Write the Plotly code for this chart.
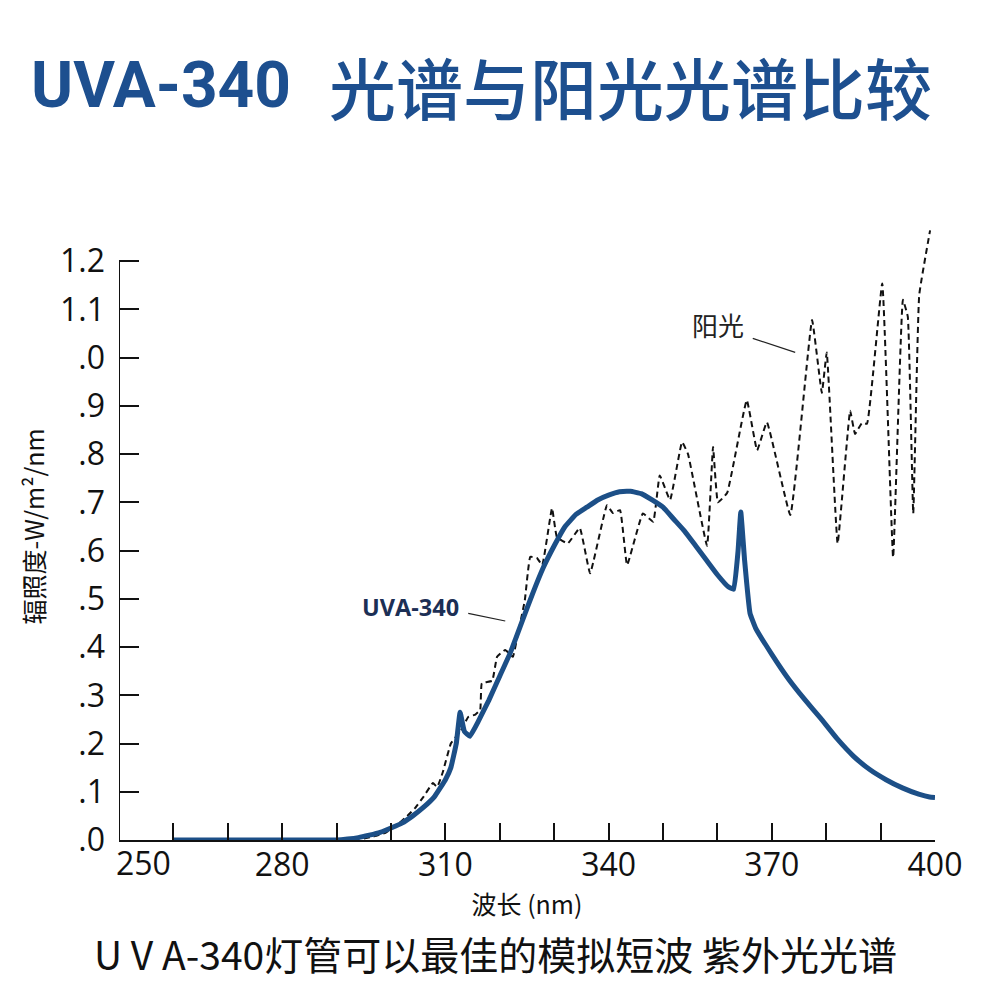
import plotly.graph_objects as go

# UVA-340 lamp spectrum (W/m2/nm)
uva_nm = [260, 270, 280, 290, 292, 294, 296, 298, 300, 302, 304, 306, 308, 310,
          311, 312, 312.7, 313.5, 314.5, 316, 318, 320, 322, 324, 326, 328, 330,
          332, 334, 336, 338, 340, 342, 344, 346, 348, 350, 352, 354, 356, 358,
          360, 362, 363, 363.8, 364.3, 365, 366, 367, 370, 373, 376, 379, 382,
          385, 388, 391, 394, 397, 399, 400]
uva_val = [0.0, 0.0, 0.0, 0.0, 0.002, 0.005, 0.01, 0.016, 0.025, 0.035, 0.05,
           0.068, 0.09, 0.125, 0.15, 0.2, 0.265, 0.225, 0.215, 0.245, 0.29,
           0.34, 0.39, 0.45, 0.51, 0.565, 0.61, 0.65, 0.675, 0.69, 0.705, 0.715,
           0.722, 0.723, 0.718, 0.705, 0.69, 0.665, 0.64, 0.61, 0.58, 0.55,
           0.525, 0.52, 0.6, 0.68, 0.58, 0.47, 0.44, 0.385, 0.335, 0.292, 0.252,
           0.21, 0.174, 0.146, 0.125, 0.108, 0.095, 0.089, 0.088]

# sunlight spectrum
sun_nm = [295, 297, 299, 301, 303, 304.4, 306, 307.7, 308.5, 309.5, 311, 312,
          313, 314.2, 315.5, 316.4, 316.7, 318.6, 319.5, 321, 322.4, 323.2,
          324.6, 325.6, 326.8, 327.8, 329.6, 330.5, 332.5, 334.7, 336.6, 339.7,
          340.8, 342.1, 343.4, 346.3, 348.2, 349.4, 351.3, 353.5, 354.6, 358.1,
          359.2, 360.1, 361.8, 365.4, 367.3, 369.1, 373.4, 377.4, 379.2, 380.1,
          382.1, 384.4, 385.3, 386.6, 387.5, 390.3, 392.3, 394.1, 395.0, 396.0,
          397.1, 399.1]
sun_val = [0.003, 0.008, 0.015, 0.03, 0.05, 0.066, 0.09, 0.118, 0.11, 0.14,
           0.2, 0.215, 0.23, 0.255, 0.26, 0.27, 0.325, 0.33, 0.38, 0.394, 0.38,
           0.42, 0.497, 0.587, 0.585, 0.57, 0.688, 0.628, 0.615, 0.647, 0.553,
           0.694, 0.678, 0.684, 0.57, 0.677, 0.66, 0.756, 0.705, 0.825, 0.80,
           0.61, 0.815, 0.70, 0.72, 0.912, 0.808, 0.866, 0.674, 1.078, 0.927,
           1.011, 0.615, 0.89, 0.842, 0.865, 0.863, 1.154, 0.586, 1.12, 1.085,
           0.677, 1.13, 1.264]

y_ticks = [0.0, 0.1, 0.2, 0.3, 0.4, 0.5, 0.6, 0.7, 0.8, 0.9, 1.0, 1.1, 1.2]
y_labels = [".0", ".1", ".2", ".3", ".4", ".5", ".6", ".7", ".8", ".9", ".0", "1.1", "1.2"]
x_ticks = [260, 270, 280, 290, 300, 310, 320, 330, 340, 350, 360, 370, 380, 390, 400]
x_labels = ["", "", "280", "", "", "310", "", "", "340", "", "", "370", "", "", "400"]

BLUE = "#1c4f87"
TITLE_BLUE = "#1d4f8f"
CJK = "Noto Sans CJK SC"
NUM = "Open Sans"

fig = go.Figure()
fig.add_trace(go.Scatter(x=sun_nm, y=sun_val, mode="lines",
                         line=dict(color="#111111", width=2, dash="6px,4px",
                                   shape="spline", smoothing=0.3)))
fig.add_trace(go.Scatter(x=uva_nm, y=uva_val, mode="lines",
                         line=dict(color=BLUE, width=5, shape="spline", smoothing=0.3)))

# y axis line only up to 1.2 (the sunlight curve runs above it)
fig.add_shape(type="line", x0=250, x1=250, y0=0, y1=1.2,
              line=dict(color="#111111", width=2))
# leader lines for the labels
fig.add_shape(type="line", x0=366.5, y0=1.040, x1=374.3, y1=1.011,
              line=dict(color="#222222", width=1.2))
fig.add_shape(type="line", x0=314.2, y0=0.470, x1=321.0, y1=0.454,
              line=dict(color="#222222", width=1.2))

# page body has an 8px margin, so the figure is 992 wide/high
fig.update_layout(
    width=992, height=992,
    margin=dict(l=111, r=65, t=205, b=160),
    paper_bgcolor="white", plot_bgcolor="white",
    showlegend=False,
    font=dict(family=NUM, color="#111111"),
)
fig.update_xaxes(
    range=[250, 400], showgrid=False, zeroline=False,
    showline=True, linecolor="#111111", linewidth=2,
    tickmode="array", tickvals=x_ticks, ticktext=x_labels,
    ticks="inside", ticklen=17, tickwidth=2, tickcolor="#111111",
    tickfont=dict(family=NUM, size=32, color="#111111"),
    ticklabelstandoff=-4,
    title=dict(text="波长 (nm)", font=dict(family=CJK, size=25, color="#111111"), standoff=4),
)
fig.update_yaxes(
    range=[0, 1.3], showgrid=False, zeroline=False, showline=False,
    tickmode="array", tickvals=y_ticks, ticktext=y_labels,
    ticks="inside", ticklen=20, tickwidth=2, tickcolor="#111111",
    tickfont=dict(family=NUM, size=32, color="#111111"),
    ticklabelstandoff=13,
    title=dict(text="辐照度-W/m²/nm", font=dict(family=CJK, size=25, color="#111111"), standoff=8),
)

annotations = [
    dict(x=250, y=0, xref="x", yref="y", text="250", showarrow=False,
         xanchor="left", yanchor="top", xshift=-5, yshift=1,
         font=dict(family=NUM, size=32, color="#111111")),
    dict(x=360.1, y=1.069, xref="x", yref="y", text="阳光", showarrow=False,
         font=dict(family=CJK, size=26, color="#222222")),
    dict(x=303.5, y=0.483, xref="x", yref="y", text="<b>UVA-340</b>", showarrow=False,
         font=dict(family=NUM, size=23.5, color="#1c2f55")),
    dict(x=-0.110, y=1.2026, xref="paper", yref="paper", text="<b>UVA-340</b>",
         showarrow=False, xanchor="left", yanchor="middle",
         font=dict(family="Roboto", size=64, color=TITLE_BLUE)),
    dict(x=0.255, y=1.204, xref="paper", yref="paper", text="光谱与阳光光谱比较",
         showarrow=False, xanchor="left", yanchor="middle",
         font=dict(family=CJK, size=67, color=TITLE_BLUE, weight=500)),
    dict(x=0.462, y=-0.180, xref="paper", yref="paper",
         text="U V A-340灯管可以最佳的模拟短波 紫外光光谱", showarrow=False,
         xanchor="center", yanchor="middle",
         font=dict(family=CJK, size=39, color="#111111")),
]
fig.update_layout(annotations=annotations)

fig.write_html("out.html")
